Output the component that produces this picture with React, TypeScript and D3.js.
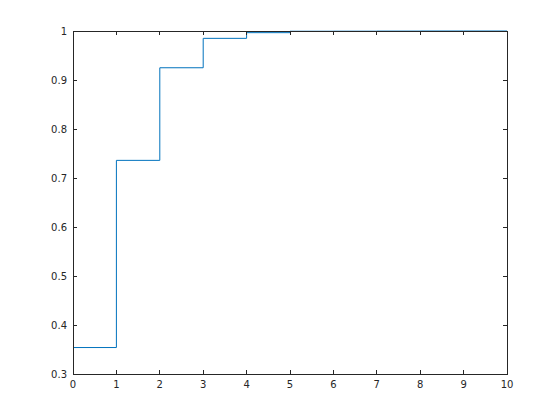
import React from "react";
import * as d3 from "d3";

const xs = [0, 1, 2, 3, 4, 5, 6, 7, 8, 9, 10];
const ys = [0.354, 0.736, 0.925, 0.985, 0.9966, 0.9995, 0.9996, 0.9998, 1, 1, 1];
const xTicks = [0, 1, 2, 3, 4, 5, 6, 7, 8, 9, 10];
const yTicks = [0.3, 0.4, 0.5, 0.6, 0.7, 0.8, 0.9, 1];

export default function App() {
  const W = 560, H = 420;
  const L = 73, R = 507, T = 31, B = 374;
  const x = d3.scaleLinear().domain([0, 10]).range([L, R]);
  const y = d3.scaleLinear().domain([0.3, 1]).range([B, T]);
  const pts: [number, number][] = xs.map((v, i) => [v, ys[i]]);
  const line = d3.line<[number, number]>().x(d => x(d[0])).y(d => y(d[1])).curve(d3.curveStepAfter);
  const ax = "#262626";
  const tl = 4.3;
  return (
    <svg width={W} height={H} style={{ position: "absolute", left: 0, top: 0, background: "#fff" }}>
      <rect x={0} y={0} width={W} height={H} fill="#fff" />
      <path d={line(pts) || ""} fill="none" stroke="#0072BD" strokeWidth={1} />
      <g stroke={ax} strokeWidth={1} shapeRendering="crispEdges">
        {xTicks.map(t => (
          <g key={"x" + t}>
            <line x1={x(t)} x2={x(t)} y1={B} y2={B - tl} />
            <line x1={x(t)} x2={x(t)} y1={T} y2={T + tl} />
          </g>
        ))}
        {yTicks.map(t => (
          <g key={"y" + t}>
            <line x1={L} x2={L + tl} y1={y(t)} y2={y(t)} />
            <line x1={R} x2={R - tl} y1={y(t)} y2={y(t)} />
          </g>
        ))}
        <rect x={L} y={T} width={R - L} height={B - T} fill="none" />
      </g>
      <g fill={ax} fontFamily="'DejaVu Sans', sans-serif" fontSize={10}>
        {xTicks.map(t => (
          <text key={"xl" + t} x={x(t)} y={B + 14} textAnchor="middle">{String(t)}</text>
        ))}
        {yTicks.map(t => (
          <text key={"yl" + t} x={L - 6} y={y(t) + 3.5} textAnchor="end">{String(t)}</text>
        ))}
      </g>
    </svg>
  );
}
